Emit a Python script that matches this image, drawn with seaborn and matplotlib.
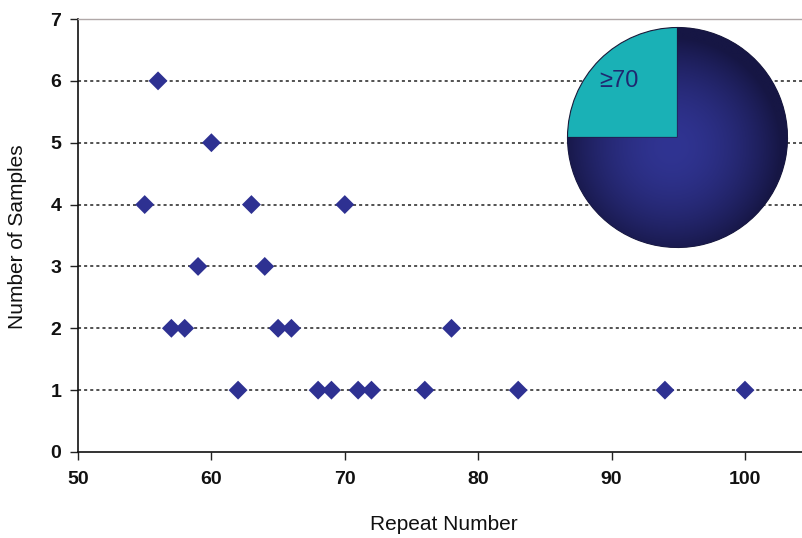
import numpy as np
import pandas as pd
import matplotlib
matplotlib.use("Agg")
import matplotlib.pyplot as plt
import seaborn as sns

# ---- data ----
repeat_number = [56, 60, 55, 63, 70, 59, 64, 57, 58, 65, 66, 78,
                 62, 68, 69, 71, 72, 76, 83, 94, 100]
num_samples = [6, 5, 4, 4, 4, 3, 3, 2, 2, 2, 2, 2,
               1, 1, 1, 1, 1, 1, 1, 1, 1]
x_ticks = [50, 60, 70, 80, 90, 100]
y_ticks = [0, 1, 2, 3, 4, 5, 6, 7]
grid_levels = [1, 2, 3, 4, 5, 6]
pie_labels = ["≥70", "<70"]
pie_values = [12, 36]

sns.set_style("white")
plt.rcParams['font.family'] = ['Liberation Sans', 'DejaVu Sans']

W, H = 803, 538
fig = plt.figure(figsize=(W / 100, H / 100), dpi=100)
ax = fig.add_axes([78 / W, 1 - 452 / H, (W - 78) / W, (452 - 19) / H])

df = pd.DataFrame({"Repeat Number": repeat_number, "Number of Samples": num_samples})
diamond = [(0, 1), (1, 0), (0, -1), (-1, 0), (0, 1)]
sns.scatterplot(data=df, x="Repeat Number", y="Number of Samples", ax=ax,
                marker=diamond, s=185, color="#2E3192", edgecolor="none", zorder=3)

for g in grid_levels:
    ax.axhline(g, color="#222222", lw=1.1, ls=(0, (2, 2)), zorder=1)

ax.set_xlim(50, 104.35)
ax.set_ylim(0, 7)
ax.set_xticks(x_ticks)
ax.set_yticks(y_ticks)
ax.tick_params(axis="both", direction="out", length=6, width=1, color="#222222",
               labelsize=14, pad=6, left=True, bottom=True)
ax.tick_params(axis="x", pad=8)
for lab in ax.get_xticklabels() + ax.get_yticklabels():
    lab.set_fontweight("bold")
    lab.set_color("#111111")

for s in ["left", "bottom"]:
    ax.spines[s].set_color("#111111")
    ax.spines[s].set_linewidth(1.2)
ax.spines["top"].set_color("#b0a8a8")
ax.spines["top"].set_linewidth(1.0)
ax.spines["right"].set_visible(False)

ax.set_xlabel("Repeat Number", fontsize=15, color="#111111")
ax.set_ylabel("Number of Samples", fontsize=15, color="#111111")
ax.xaxis.label.set_va("center")
ax.yaxis.label.set_va("center")
ax.xaxis.set_label_coords((444 - 78) / (W - 78), -(524 - 452) / (452 - 19))
ax.yaxis.set_label_coords(-(78 - 18) / (W - 78), (452 - 237) / (452 - 19))

# ---- inset pie ----
box = 235
iax = fig.add_axes([560 / W, 1 - 255 / H, box / W, box / H])
iax.set_facecolor("white")
for s in iax.spines.values():
    s.set_visible(False)
iax.set_xticks([])
iax.set_yticks([])
r = 110 / (box / 2)
wedges, _ = iax.pie(pie_values, colors=["#1AB1B6", "#23256A"], startangle=90,
                    counterclock=True, radius=r,
                    wedgeprops=dict(edgecolor="#1a1a3a", linewidth=0.8))
iax.set_xlim(-1, 1)
iax.set_ylim(-1, 1)
iax.set_aspect("equal")

# radial shading on the dark slice
n = 300
yy, xx = np.mgrid[-1:1:n * 1j, -1:1:n * 1j]
dist = np.sqrt((xx + 0.05) ** 2 + (yy + 0.08) ** 2) / r
dist = np.clip(dist, 0, 1)
c_in = np.array([0x30, 0x34, 0x92]) / 255
c_out = np.array([0x16, 0x16, 0x44]) / 255
t = dist[..., None] ** 1.8
img = c_in * (1 - t) + c_out * t
im = iax.imshow(img, extent=[-1, 1, -1, 1], origin="lower", zorder=2)
im.set_clip_path(wedges[1])

iax.text(-0.50, 0.48, pie_labels[0], fontsize=17, color="#1F2870",
         ha="center", va="center", zorder=5)

fig.savefig("out.png", dpi=100)
